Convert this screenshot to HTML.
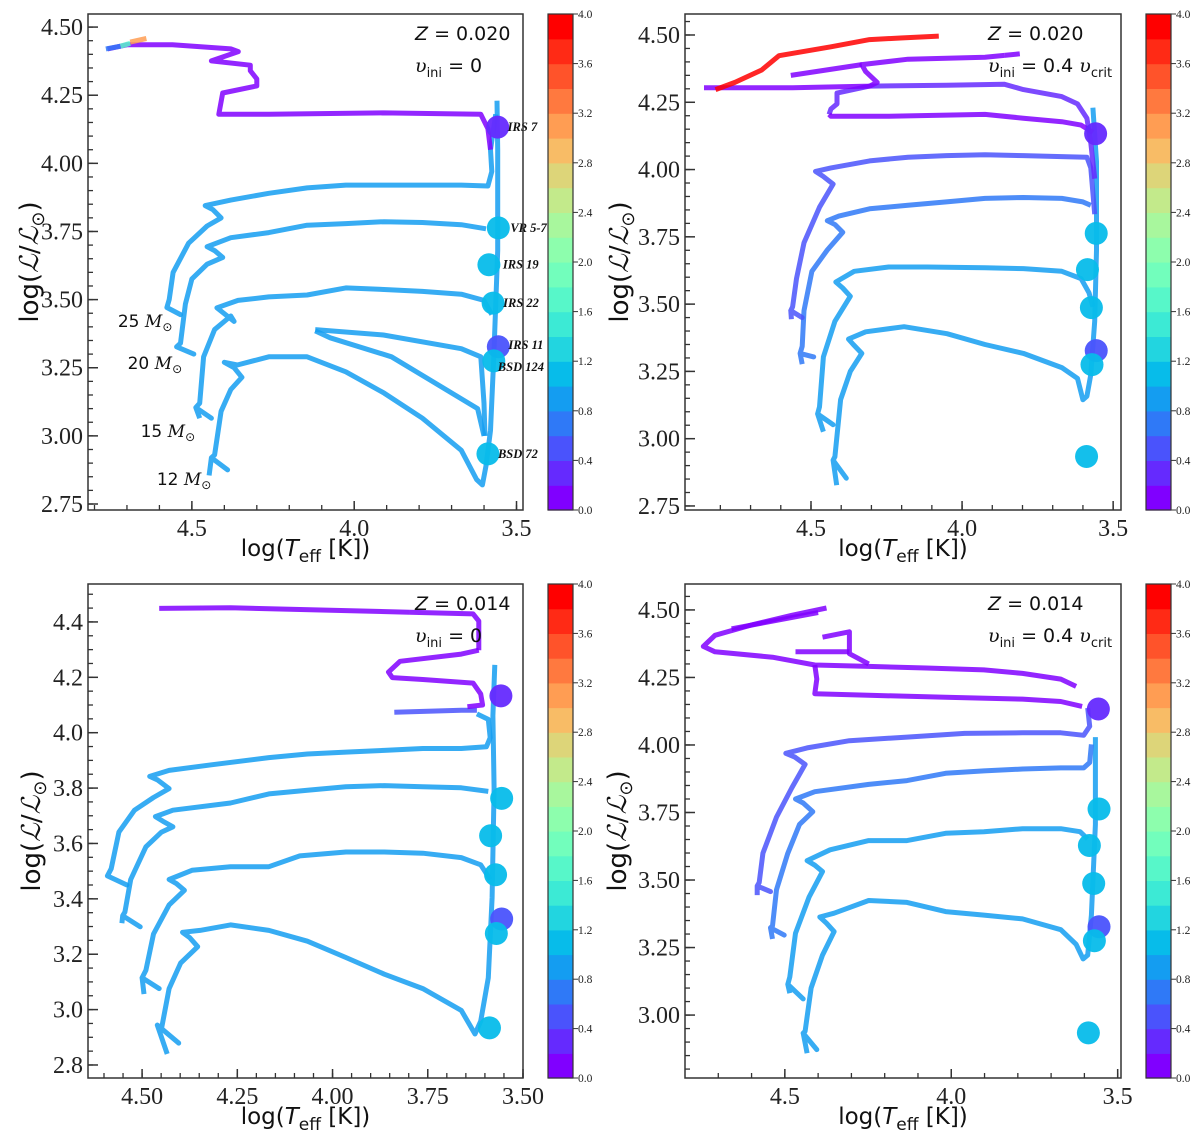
<!DOCTYPE html>
<html><head><meta charset="utf-8">
<style>
html,body{margin:0;padding:0;background:#fff;}
svg{display:block;}
</style></head>
<body>
<svg id="fig" width="1200" height="1141" viewBox="0 0 1200 1141" xmlns="http://www.w3.org/2000/svg"></svg>
<script>
// ---------- DATA ----------
const starNames = ["IRS 7","VR 5-7","IRS 19","IRS 22","IRS 11","BSD 124","BSD 72"];
const starLogT = [3.558,3.556,3.585,3.572,3.556,3.570,3.588];
const starLogL = [4.133,3.763,3.628,3.487,3.327,3.275,2.934];
const starValue = [0.3,1.1,1.1,1.1,0.45,1.1,1.1];

const massLabels = ["25","20","15","12"];

// Panel 1: Z=0.020, v=0
const p1Track12 = [[4.447,2.855],[4.44,2.92],[4.39,2.875],[4.44,2.92],[4.43,2.93],[4.41,3.09],[4.38,3.17],[4.346,3.215],[4.37,3.25],[4.40,3.27],[4.36,3.26],[4.263,3.29],[4.145,3.29],[4.026,3.235],[3.908,3.157],[3.79,3.065],[3.67,2.947],[3.623,2.84],[3.605,2.82],[3.594,2.89],[3.58,3.02],[3.57,3.29],[3.558,3.68],[3.558,4.05],[3.56,4.23]];
const p1Loop = [[4.12,3.39],[3.91,3.37],[3.67,3.32],[3.61,3.29],[3.60,3.12],[3.597,3.0]];
const p1Loop2 = [[4.12,3.385],[4.074,3.36],[3.885,3.29],[3.62,3.1],[3.60,3.0]];
const p1Track15 = [[4.476,3.065],[4.488,3.104],[4.44,3.065],[4.488,3.104],[4.476,3.12],[4.464,3.29],[4.43,3.39],[4.38,3.44],[4.37,3.42],[4.423,3.47],[4.358,3.497],[4.263,3.51],[4.145,3.517],[4.026,3.543],[3.908,3.537],[3.79,3.53],[3.67,3.52],[3.60,3.497],[3.576,3.445]];
const p1Track20 = [[4.547,3.327],[4.494,3.30],[4.547,3.327],[4.535,3.34],[4.52,3.484],[4.5,3.576],[4.453,3.63],[4.405,3.655],[4.43,3.68],[4.453,3.694],[4.38,3.727],[4.263,3.746],[4.145,3.773],[4.026,3.779],[3.908,3.786],[3.79,3.783],[3.67,3.775],[3.594,3.76]];
const p1Track25 = [[4.577,3.471],[4.535,3.445],[4.577,3.471],[4.57,3.5],[4.558,3.6],[4.51,3.707],[4.453,3.77],[4.41,3.80],[4.435,3.83],[4.459,3.845],[4.38,3.865],[4.263,3.89],[4.145,3.91],[4.026,3.92],[3.908,3.92],[3.79,3.92],[3.67,3.92],[3.588,3.917],[3.576,3.97],[3.58,4.05],[3.564,4.18]];
const p1Track32 = [[4.76,4.42],[4.70,4.435],[4.56,4.435],[4.38,4.42],[4.357,4.41],[4.44,4.376],[4.32,4.36],[4.32,4.34],[4.30,4.31],[4.30,4.284],[4.405,4.258],[4.417,4.18],[4.263,4.18],[3.908,4.185],[3.61,4.18],[3.588,4.127],[3.58,4.05]];
const p1Spin1 = [[4.765,4.42],[4.72,4.43]];
const p1Spin2 = [[4.72,4.43],[4.69,4.44]];
const p1Spin3 = [[4.69,4.445],[4.64,4.458]];
const panel1Tracks = [p1Track12,p1Loop,p1Loop2,p1Track15,p1Track20,p1Track25,p1Track32,p1Spin1,p1Spin2,p1Spin3];
const panel1Values = [0.9,0.9,0.9,0.9,0.9,0.9,0.1,0.7,1.7,3.1];

// Panel 2: Z=0.020, rotating
const p2Track12 = [[4.415,2.827],[4.427,2.92],[4.383,2.853],[4.427,2.92],[4.421,2.933],[4.402,3.145],[4.37,3.25],[4.332,3.317],[4.36,3.35],[4.376,3.37],[4.319,3.397],[4.192,3.416],[4.05,3.39],[3.924,3.35],[3.797,3.317],[3.67,3.264],[3.618,3.224],[3.6,3.145],[3.587,3.158],[3.574,3.238],[3.561,3.436],[3.555,3.70],[3.555,4.03],[3.567,4.23]];
const p2Track15 = [[4.459,3.026],[4.478,3.092],[4.427,3.052],[4.478,3.092],[4.472,3.118],[4.459,3.304],[4.421,3.436],[4.37,3.529],[4.395,3.56],[4.418,3.582],[4.357,3.622],[4.243,3.638],[4.115,3.638],[3.924,3.635],[3.797,3.632],[3.67,3.622],[3.606,3.595],[3.58,3.542],[3.567,3.49]];
const p2Track20 = [[4.529,3.277],[4.536,3.317],[4.491,3.304],[4.536,3.317],[4.529,3.343],[4.523,3.476],[4.497,3.622],[4.446,3.701],[4.395,3.767],[4.42,3.795],[4.446,3.81],[4.408,3.827],[4.306,3.854],[4.179,3.867],[4.052,3.88],[3.924,3.893],[3.797,3.896],[3.67,3.893],[3.6,3.88],[3.574,3.867]];
const p2Track25 = [[4.565,3.444],[4.567,3.476],[4.529,3.45],[4.567,3.476],[4.561,3.49],[4.548,3.595],[4.523,3.728],[4.472,3.86],[4.427,3.946],[4.46,3.975],[4.485,3.993],[4.434,4.006],[4.306,4.032],[4.179,4.046],[4.052,4.052],[3.924,4.055],[3.797,4.052],[3.67,4.048],[3.587,4.046],[3.574,4.006],[3.561,3.834]];
const p2TrackA = [[4.44,4.205],[4.434,4.225],[4.414,4.244],[4.414,4.284],[4.306,4.31],[4.052,4.313],[3.861,4.317],[3.797,4.297],[3.67,4.271],[3.618,4.244],[3.587,4.191],[3.574,4.099],[3.561,3.966]];
const p2TrackB = [[4.44,4.205],[4.434,4.198],[4.243,4.198],[3.924,4.205],[3.797,4.191],[3.67,4.178],[3.606,4.165],[3.567,4.138]];
const p2TrackC = [[4.854,4.304],[4.561,4.304],[4.306,4.31],[4.281,4.324],[4.319,4.364],[4.332,4.39],[4.179,4.41],[3.924,4.417],[3.86,4.424]];
const p2TrackD = [[3.86,4.424],[3.809,4.43]];
const p2TrackE = [[4.567,4.35],[4.332,4.39]];
const p2TrackRed = [[4.816,4.297],[4.752,4.324],[4.663,4.37],[4.606,4.423],[4.434,4.456],[4.306,4.483],[4.204,4.489],[4.077,4.496]];
const panel2Tracks = [p2Track12,p2Track15,p2Track20,p2Track25,p2TrackA,p2TrackB,p2TrackC,p2TrackD,p2TrackE,p2TrackRed];
const panel2Values = [0.8,0.8,0.7,0.6,0.3,0.1,0.1,0.0,0.1,3.9];

// Panel 3: Z=0.014, v=0
const p3Track12 = [[4.434,2.84],[4.46,2.944],[4.404,2.879],[4.46,2.944],[4.449,2.931],[4.429,3.076],[4.399,3.168],[4.354,3.227],[4.375,3.26],[4.394,3.279],[4.348,3.286],[4.268,3.306],[4.167,3.286],[4.066,3.247],[3.965,3.188],[3.864,3.128],[3.763,3.076],[3.662,2.997],[3.626,2.912],[3.611,2.958],[3.591,3.115],[3.581,3.404],[3.576,3.798],[3.579,4.061],[3.574,4.245]];
const p3Track15 = [[4.495,3.056],[4.5,3.115],[4.455,3.076],[4.5,3.115],[4.49,3.142],[4.47,3.273],[4.429,3.378],[4.389,3.431],[4.41,3.455],[4.429,3.47],[4.369,3.503],[4.268,3.516],[4.167,3.516],[4.086,3.555],[3.965,3.569],[3.864,3.569],[3.763,3.565],[3.662,3.549],[3.611,3.523],[3.586,3.47]];
const p3Track20 = [[4.553,3.312],[4.551,3.339],[4.505,3.299],[4.551,3.339],[4.545,3.352],[4.53,3.47],[4.49,3.588],[4.449,3.641],[4.419,3.66],[4.445,3.68],[4.465,3.697],[4.419,3.72],[4.268,3.746],[4.167,3.779],[4.066,3.792],[3.965,3.805],[3.864,3.809],[3.763,3.805],[3.662,3.801],[3.591,3.788]];
const p3Track25 = [[4.591,3.483],[4.54,3.45],[4.591,3.483],[4.581,3.509],[4.561,3.641],[4.52,3.72],[4.47,3.766],[4.429,3.798],[4.46,3.83],[4.48,3.842],[4.429,3.864],[4.318,3.884],[4.167,3.91],[4.066,3.923],[3.965,3.93],[3.864,3.936],[3.763,3.943],[3.662,3.943],[3.596,3.949],[3.586,3.982],[3.591,4.048],[3.621,4.068]];
const p3TrackA = [[3.838,4.074],[3.662,4.081],[3.621,4.081]];
const p3TrackB = [[4.455,4.449],[4.268,4.451],[3.798,4.435]];
const p3TrackC = [[3.798,4.435],[3.631,4.429],[3.616,4.403],[3.616,4.298]];
const p3TrackD = [[3.616,4.298],[3.662,4.284],[3.823,4.258],[3.853,4.219],[3.843,4.199],[3.763,4.192],[3.631,4.179],[3.611,4.14],[3.606,4.1],[3.646,4.094]];
const panel3Tracks = [p3Track12,p3Track15,p3Track20,p3Track25,p3TrackA,p3TrackB,p3TrackC,p3TrackD];
const panel3Values = [0.9,0.9,0.9,0.9,0.4,0.1,0.1,0.1];

// Panel 4: Z=0.014, rotating
const p4Track12 = [[4.433,2.859],[4.445,2.933],[4.404,2.872],[4.445,2.933],[4.439,2.94],[4.421,3.1],[4.387,3.222],[4.352,3.309],[4.375,3.34],[4.395,3.363],[4.352,3.377],[4.248,3.424],[4.133,3.417],[4.017,3.383],[3.902,3.37],[3.786,3.356],[3.671,3.316],[3.625,3.262],[3.604,3.208],[3.59,3.222],[3.579,3.37],[3.567,3.706],[3.567,4.029]];
const p4Track15 = [[4.485,3.081],[4.491,3.114],[4.445,3.06],[4.491,3.114],[4.485,3.141],[4.468,3.303],[4.427,3.437],[4.387,3.531],[4.41,3.555],[4.433,3.572],[4.364,3.612],[4.248,3.646],[4.133,3.646],[4.017,3.673],[3.902,3.679],[3.786,3.69],[3.671,3.69],[3.613,3.679],[3.59,3.652]];
const p4Track20 = [[4.537,3.282],[4.543,3.323],[4.502,3.296],[4.543,3.323],[4.537,3.33],[4.525,3.464],[4.491,3.599],[4.456,3.706],[4.416,3.753],[4.445,3.785],[4.468,3.8],[4.41,3.827],[4.248,3.854],[4.133,3.868],[4.017,3.895],[3.902,3.904],[3.786,3.911],[3.671,3.915],[3.602,3.915],[3.584,3.935],[3.579,4.002]];
const p4Track25 = [[4.583,3.444],[4.583,3.478],[4.543,3.457],[4.583,3.478],[4.577,3.491],[4.566,3.599],[4.525,3.733],[4.479,3.841],[4.439,3.928],[4.47,3.955],[4.497,3.969],[4.433,3.989],[4.306,4.016],[4.133,4.029],[3.96,4.043],[3.786,4.045],[3.671,4.045],[3.602,4.036],[3.584,4.069],[3.59,4.137]];
const p4TrackA = [[4.375,4.507],[4.479,4.48],[4.595,4.446],[4.71,4.406],[4.745,4.365],[4.71,4.345],[4.537,4.325],[4.41,4.296],[4.248,4.291],[4.075,4.285],[3.902,4.278],[3.786,4.265],[3.671,4.244],[3.625,4.217]];
const p4TrackB = [[4.41,4.296],[4.404,4.244],[4.41,4.19],[4.248,4.184],[4.017,4.177],[3.786,4.17],[3.671,4.161],[3.607,4.143]];
const p4TrackC = [[4.387,4.399],[4.306,4.419],[4.306,4.338],[4.248,4.3]];
const p4TrackD = [[4.468,4.345],[4.306,4.345]];
const p4TrackE = [[4.66,4.43],[4.40,4.49]];
const panel4Tracks = [p4Track12,p4Track15,p4Track20,p4Track25,p4TrackA,p4TrackB,p4TrackC,p4TrackD,p4TrackE];
const panel4Values = [0.9,0.8,0.7,0.6,0.1,0.1,0.1,0.1,0.1];

const cbarTicks = ["0.0","0.4","0.8","1.2","1.6","2.0","2.4","2.8","3.2","3.6","4.0"];

// ---------- HELPERS ----------
const NS = "http://www.w3.org/2000/svg";
const svg = document.getElementById("fig");
function mk(tag, attrs, parent){
  const e = document.createElementNS(NS, tag);
  for (const k in attrs) e.setAttribute(k, attrs[k]);
  (parent||svg).appendChild(e);
  return e;
}
function rainbow(x){
  const r = Math.min(1,Math.abs(2*x-0.5));
  const g = Math.sin(Math.PI*x);
  const b = Math.max(0,Math.cos(Math.PI*x/2));
  return "rgb("+Math.round(r*255)+","+Math.round(g*255)+","+Math.round(b*255)+")";
}
function cmap(v){
  let i = Math.floor(v/0.2); if(i<0)i=0; if(i>19)i=19;
  return rainbow(i/19);
}

function drawPanel(cfg){
  const g = mk("g",{});
  
  
  const sx = t => cfg.x0 + (cfg.tMax - t)/(cfg.tMax - cfg.tMin)*(cfg.x1-cfg.x0);
  const sy = l => cfg.y1 - (l - cfg.lMin)/(cfg.lMax - cfg.lMin)*(cfg.y1-cfg.y0);
  const cid = "clip-"+cfg.name;
  const cp = mk("clipPath",{id:cid},g);
  mk("rect",{x:cfg.x0,y:cfg.y0,width:cfg.x1-cfg.x0,height:cfg.y1-cfg.y0},cp);
  const plot = mk("g",{"clip-path":"url(#"+cid+")"},g);
  cfg.tracks.forEach((tr,i)=>{
    const pts = tr.map(p=>sx(p[0]).toFixed(1)+","+sy(p[1]).toFixed(1)).join(" ");
    const pl = mk("polyline",{points:pts,fill:"none",stroke:cmap(cfg.values[i]),"stroke-width":5,"stroke-linejoin":"round","stroke-linecap":"butt",opacity:0.85},plot);
    
    
  });
  starNames.forEach((nm,i)=>{
    const c = mk("circle",{cx:sx(starLogT[i]),cy:sy(starLogL[i]),r:11.5,fill:cmap(starValue[i]),opacity:0.95},plot);
    
    
  });
  if(cfg.starLabels){
    starNames.forEach((nm,i)=>{
      const dy = nm==="BSD 124" ? 10 : (nm==="IRS 11"?2:4);
      const dx = nm==="BSD 124" ? 4 : (nm==="VR 5-7"?12:(nm==="IRS 19"?14:10));
      const t = mk("text",{x:sx(starLogT[i])+dx,y:sy(starLogL[i])+dy,"font-family":"Liberation Serif, serif","font-style":"italic","font-weight":"bold","font-size":12.5,fill:"#111"},g);
      t.textContent = nm;
      
      
    });
  }
  const fr = mk("rect",{x:cfg.x0,y:cfg.y0,width:cfg.x1-cfg.x0,height:cfg.y1-cfg.y0,fill:"none",stroke:"#333","stroke-width":1.5},g);
  
  
  for(let t=cfg.xMinorStart; t>=cfg.tMin-1e-9; t-=cfg.xMinor){
    const x = sx(t); if(x<cfg.x0||x>cfg.x1) continue;
    mk("line",{x1:x,x2:x,y1:cfg.y1,y2:cfg.y1-5,stroke:"#333","stroke-width":1.3},g);
  }
  cfg.xMajor.forEach(t=>{
    const x = sx(t);
    mk("line",{x1:x,x2:x,y1:cfg.y1,y2:cfg.y1-9,stroke:"#333","stroke-width":1.5},g);
    const lb = mk("text",{x:x,y:cfg.y1+26,"text-anchor":"middle","font-family":"Liberation Serif, serif","font-size":24,fill:"#222"},g);
    lb.textContent = t.toFixed(cfg.xDec);
    
    
  });
  for(let l=cfg.yMinorStart; l<=cfg.lMax+1e-9; l+=cfg.yMinor){
    const y = sy(l); if(y<cfg.y0||y>cfg.y1) continue;
    mk("line",{x1:cfg.x0,x2:cfg.x0+5,y1:y,y2:y,stroke:"#333","stroke-width":1.3},g);
  }
  cfg.yMajor.forEach(l=>{
    const y = sy(l);
    mk("line",{x1:cfg.x0,x2:cfg.x0+10,y1:y,y2:y,stroke:"#333","stroke-width":1.5},g);
    const lb = mk("text",{x:cfg.x0-5,y:y+8,"text-anchor":"end","font-family":"Liberation Serif, serif","font-size":24,fill:"#222"},g);
    lb.textContent = l.toFixed(cfg.yDec);
    
    
  });
  const xt = mk("text",{x:(cfg.x0+cfg.x1)/2,y:cfg.y1+46,"text-anchor":"middle","font-family":"DejaVu Sans, sans-serif","font-size":23,fill:"#111"},g);
  xt.innerHTML = 'log(<tspan font-style="italic">T</tspan><tspan font-size="17" dy="6">eff</tspan><tspan dy="-6"> [K])</tspan>';
  
  
  const yx = cfg.yTitleX, yy = (cfg.y0+cfg.y1)/2;
  const yt = mk("text",{x:yx,y:yy,"text-anchor":"middle","font-family":"DejaVu Sans, sans-serif","font-size":26,fill:"#111",transform:"rotate(-90 "+yx+" "+yy+")"},g);
  yt.innerHTML = 'log(<tspan font-family="DejaVu Serif, serif" font-style="italic">ℒ</tspan>/<tspan font-family="DejaVu Serif, serif" font-style="italic">ℒ</tspan><tspan font-size="18" dy="6">⊙</tspan><tspan dy="-6">)</tspan>';
  
  
  const a1 = mk("text",{x:cfg.annX,y:cfg.y0+26,"font-family":"DejaVu Sans, sans-serif","font-size":19,fill:"#111"},g);
  a1.innerHTML = '<tspan font-style="italic">Z</tspan> = '+cfg.z;
  
  
  const a2 = mk("text",{x:cfg.annX,y:cfg.y0+58,"font-family":"DejaVu Sans, sans-serif","font-size":19,fill:"#111"},g);
  a2.innerHTML = '<tspan font-family="DejaVu Serif, serif" font-style="italic">υ</tspan><tspan font-size="13" dy="5">ini</tspan><tspan dy="-5"> = '+cfg.v+'</tspan>'+(cfg.crit?'<tspan font-family="DejaVu Serif, serif" font-style="italic"> υ</tspan><tspan font-size="13" dy="5">crit</tspan>':'');
  
  
  const cb = mk("g",{},g);
  
  
  const h = (cfg.y1-cfg.y0)/20;
  for(let i=0;i<20;i++){
    mk("rect",{x:cfg.cbx,y:cfg.y1-(i+1)*h,width:25,height:h+0.6,fill:rainbow(i/19)},cb);
  }
  mk("rect",{x:cfg.cbx,y:cfg.y0,width:25,height:cfg.y1-cfg.y0,fill:"none",stroke:"#333","stroke-width":1.2},cb);
  cbarTicks.forEach((s,i)=>{
    const y = cfg.y1 - i*2*h;
    mk("line",{x1:cfg.cbx+25,x2:cfg.cbx+30,y1:y,y2:y,stroke:"#333","stroke-width":1},cb);
    const t = mk("text",{x:cfg.cbx+30,y:y+4,"font-family":"Liberation Serif, serif","font-size":11.5,fill:"#222"},cb);
    t.textContent = s;
    
    
  });
  if(cfg.massPos){
    massLabels.forEach((m,i)=>{
      const p = cfg.massPos[i];
      const t = mk("text",{x:sx(p[0]),y:sy(p[1]),"text-anchor":"end","font-family":"DejaVu Sans, sans-serif","font-size":17,fill:"#111"},g);
      t.innerHTML = m+' <tspan font-family="DejaVu Serif, serif" font-style="italic">M</tspan><tspan font-size="12" dy="4">⊙</tspan>';
      
      
    });
  }
}

drawPanel({name:"panel-z020-norot",x0:88,x1:523,y0:14,y1:510,tMax:4.82,tMin:3.48,lMin:2.728,lMax:4.548,
  xMajor:[4.5,4.0,3.5],xDec:1,xMinor:0.1,xMinorStart:4.8,yMajor:[2.75,3.0,3.25,3.5,3.75,4.0,4.25,4.5],yDec:2,yMinor:0.05,yMinorStart:2.75,
  yTitleX:38,annX:415,z:"0.020",v:"0",crit:false,cbx:548,tracks:panel1Tracks,values:panel1Values,starLabels:true,
  massPos:[[4.56,3.40],[4.53,3.245],[4.49,2.995],[4.44,2.82]]});
drawPanel({name:"panel-z020-rot",x0:685,x1:1121,y0:14,y1:510,tMax:4.917,tMin:3.474,lMin:2.735,lMax:4.578,
  xMajor:[4.5,4.0,3.5],xDec:1,xMinor:0.1,xMinorStart:4.8,yMajor:[2.75,3.0,3.25,3.5,3.75,4.0,4.25,4.5],yDec:2,yMinor:0.05,yMinorStart:2.75,
  yTitleX:628,annX:988,z:"0.020",v:"0.4",crit:true,cbx:1146,tracks:panel2Tracks,values:panel2Values,starLabels:false});
drawPanel({name:"panel-z014-norot",x0:88,x1:523,y0:584,y1:1078,tMax:4.642,tMin:3.5,lMin:2.753,lMax:4.537,
  xMajor:[4.5,4.25,4.0,3.75,3.5],xDec:2,xMinor:0.05,xMinorStart:4.6,yMajor:[2.8,3.0,3.2,3.4,3.6,3.8,4.0,4.2,4.4],yDec:1,yMinor:0.05,yMinorStart:2.8,
  yTitleX:40,annX:415,z:"0.014",v:"0",crit:false,cbx:548,tracks:panel3Tracks,values:panel3Values,starLabels:false});
drawPanel({name:"panel-z014-rot",x0:685,x1:1121,y0:584,y1:1078,tMax:4.80,tMin:3.49,lMin:2.767,lMax:4.596,
  xMajor:[4.5,4.0,3.5],xDec:1,xMinor:0.1,xMinorStart:4.7,yMajor:[3.0,3.25,3.5,3.75,4.0,4.25,4.5],yDec:2,yMinor:0.05,yMinorStart:2.8,
  yTitleX:626,annX:988,z:"0.014",v:"0.4",crit:true,cbx:1146,tracks:panel4Tracks,values:panel4Values,starLabels:false});
</script>
</body></html>
